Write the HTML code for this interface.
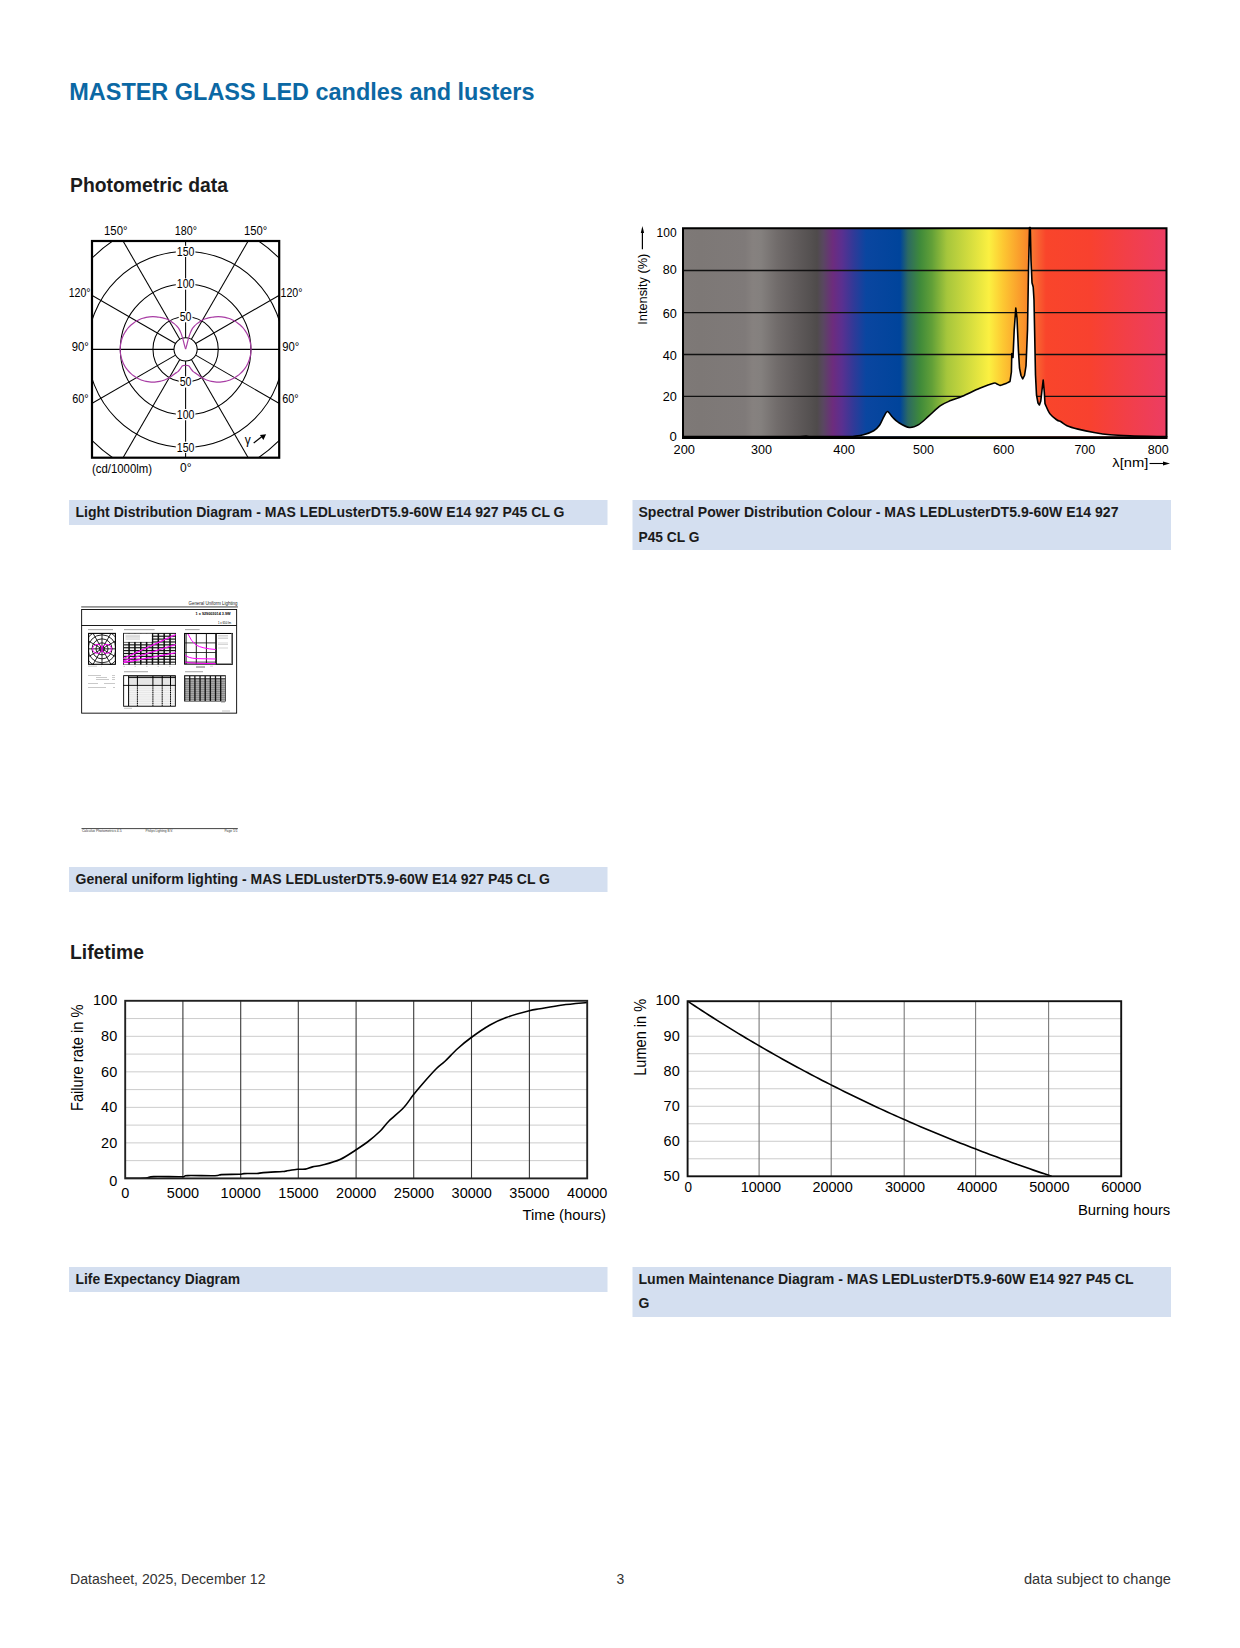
<!DOCTYPE html>
<html><head><meta charset="utf-8"><title>MASTER GLASS LED candles and lusters</title>
<style>
html,body{margin:0;padding:0;background:#fff;}
body{width:1240px;height:1648px;overflow:hidden;}
svg{display:block;font-family:"Liberation Sans", sans-serif;}
</style></head><body>
<svg width="1240" height="1648" viewBox="0 0 1240 1648">
<text x="69.30" y="100.00" font-size="24" font-weight="bold" fill="#0b68a4" textLength="465.20" lengthAdjust="spacingAndGlyphs">MASTER GLASS LED candles and lusters</text>
<text x="70.00" y="191.80" font-size="20" font-weight="bold" fill="#1b1b1b" textLength="158.00" lengthAdjust="spacingAndGlyphs">Photometric data</text>
<text x="70.00" y="958.70" font-size="20" font-weight="bold" fill="#1b1b1b" textLength="74.00" lengthAdjust="spacingAndGlyphs">Lifetime</text>
<rect x="69" y="500" width="538.5" height="25" fill="#d4dff0"/>
<text x="75.50" y="517.00" font-size="14" font-weight="bold" fill="#1b1b1b" textLength="489.00" lengthAdjust="spacingAndGlyphs">Light Distribution Diagram - MAS LEDLusterDT5.9-60W E14 927 P45 CL G</text>
<rect x="632.5" y="500" width="538.5" height="50" fill="#d4dff0"/>
<text x="638.50" y="517.00" font-size="14" font-weight="bold" fill="#1b1b1b" textLength="480.00" lengthAdjust="spacingAndGlyphs">Spectral Power Distribution Colour - MAS LEDLusterDT5.9-60W E14 927</text>
<text x="638.50" y="541.80" font-size="14" font-weight="bold" fill="#1b1b1b" textLength="61.00" lengthAdjust="spacingAndGlyphs">P45 CL G</text>
<rect x="69" y="867" width="538.5" height="25" fill="#d4dff0"/>
<text x="75.50" y="884.00" font-size="14" font-weight="bold" fill="#1b1b1b" textLength="474.50" lengthAdjust="spacingAndGlyphs">General uniform lighting - MAS LEDLusterDT5.9-60W E14 927 P45 CL G</text>
<rect x="69" y="1267" width="538.5" height="25" fill="#d4dff0"/>
<text x="75.50" y="1284.00" font-size="14" font-weight="bold" fill="#1b1b1b" textLength="164.50" lengthAdjust="spacingAndGlyphs">Life Expectancy Diagram</text>
<rect x="632.5" y="1267" width="538.5" height="50" fill="#d4dff0"/>
<text x="638.50" y="1284.00" font-size="14" font-weight="bold" fill="#1b1b1b" textLength="495.00" lengthAdjust="spacingAndGlyphs">Lumen Maintenance Diagram - MAS LEDLusterDT5.9-60W E14 927 P45 CL</text>
<text x="638.50" y="1308.30" font-size="14" font-weight="bold" fill="#1b1b1b">G</text>
<text x="70.00" y="1584.00" font-size="14" fill="#333" textLength="195.50" lengthAdjust="spacingAndGlyphs">Datasheet, 2025, December 12</text>
<text x="620.50" y="1584.00" font-size="14" fill="#333" text-anchor="middle">3</text>
<text x="1024.00" y="1584.00" font-size="14" fill="#333" textLength="147.00" lengthAdjust="spacingAndGlyphs">data subject to change</text>
<g>
<clipPath id="pc"><rect x="92" y="241" width="187.2" height="216.7"/></clipPath>
<g clip-path="url(#pc)" stroke="#000" fill="none" stroke-width="1.05">
<circle cx="185.6" cy="349.35" r="32.65"/>
<circle cx="185.6" cy="349.35" r="65.30"/>
<circle cx="185.6" cy="349.35" r="97.95"/>
<circle cx="185.6" cy="349.35" r="130.60"/>
<circle cx="185.6" cy="349.35" r="11.6"/>
<line x1="185.60" y1="337.75" x2="185.60" y2="49.35"/>
<line x1="191.40" y1="339.30" x2="335.60" y2="89.54"/>
<line x1="195.65" y1="343.55" x2="445.41" y2="199.35"/>
<line x1="197.20" y1="349.35" x2="485.60" y2="349.35"/>
<line x1="195.65" y1="355.15" x2="445.41" y2="499.35"/>
<line x1="191.40" y1="359.40" x2="335.60" y2="609.16"/>
<line x1="185.60" y1="360.95" x2="185.60" y2="649.35"/>
<line x1="179.80" y1="359.40" x2="35.60" y2="609.16"/>
<line x1="175.55" y1="355.15" x2="-74.21" y2="499.35"/>
<line x1="174.00" y1="349.35" x2="-114.40" y2="349.35"/>
<line x1="175.55" y1="343.55" x2="-74.21" y2="199.35"/>
<line x1="179.80" y1="339.30" x2="35.60" y2="89.54"/>
</g>
<path d="M185.60,349.05 L184.30,344.55 C184.03,343.52 183.25,340.25 182.70,338.35 C182.15,336.45 181.64,334.78 181.00,333.15 C180.36,331.52 179.59,329.79 178.86,328.59 C178.13,327.39 177.40,326.78 176.62,325.96 C175.84,325.13 175.01,324.35 174.15,323.64 C173.29,322.92 172.40,322.25 171.48,321.64 C170.57,321.04 169.62,320.49 168.66,320.00 C167.69,319.51 166.70,319.08 165.71,318.72 C164.71,318.35 163.69,318.04 162.68,317.80 C161.66,317.55 160.66,317.41 159.60,317.25 C158.54,317.09 157.44,316.93 156.32,316.83 C155.20,316.73 154.04,316.65 152.90,316.65 C151.76,316.65 150.62,316.71 149.48,316.83 C148.35,316.95 147.22,317.13 146.10,317.36 C144.99,317.60 143.88,317.90 142.80,318.25 C141.71,318.60 140.64,319.01 139.60,319.48 C138.56,319.94 137.54,320.46 136.55,321.03 C135.56,321.60 134.60,322.23 133.68,322.90 C132.76,323.56 131.87,324.29 131.02,325.05 C130.17,325.81 129.36,326.62 128.60,327.47 C127.84,328.32 127.11,329.21 126.45,330.13 C125.78,331.05 125.15,332.01 124.58,333.00 C124.01,333.99 123.49,335.01 123.03,336.05 C122.56,337.09 122.15,338.16 121.80,339.25 C121.45,340.33 121.15,341.44 120.91,342.55 C120.68,343.67 120.50,344.80 120.38,345.93 C120.26,347.07 120.20,348.21 120.20,349.35 C120.20,350.49 120.26,351.63 120.38,352.77 C120.50,353.90 120.68,355.03 120.91,356.15 C121.15,357.26 121.45,358.37 121.80,359.45 C122.15,360.54 122.56,361.61 123.03,362.65 C123.49,363.69 124.01,364.71 124.58,365.70 C125.15,366.69 125.78,367.65 126.45,368.57 C127.11,369.49 127.84,370.38 128.60,371.23 C129.36,372.08 130.17,372.89 131.02,373.65 C131.87,374.41 132.76,375.14 133.68,375.80 C134.60,376.47 135.56,377.10 136.55,377.67 C137.54,378.24 138.56,378.76 139.60,379.22 C140.64,379.69 141.71,380.10 142.80,380.45 C143.88,380.80 144.99,381.10 146.10,381.34 C147.22,381.57 148.35,381.75 149.48,381.87 C150.62,381.99 151.76,382.05 152.90,382.05 C154.04,382.05 155.18,381.99 156.32,381.87 C157.45,381.75 158.58,381.57 159.70,381.34 C160.81,381.10 161.92,380.80 163.00,380.45 C164.09,380.10 165.16,379.69 166.20,379.22 C167.24,378.76 168.26,378.24 169.25,377.67 C170.24,377.10 171.20,376.47 172.12,375.80 C173.04,375.14 173.80,374.34 174.78,373.65 C175.76,372.96 177.03,372.53 178.00,371.65 C178.97,370.77 179.83,369.33 180.60,368.35 C181.37,367.37 181.77,366.23 182.60,365.75 C183.43,365.27 185.10,365.54 185.60,365.50" stroke="#a83ca4" stroke-width="1.2" fill="none" stroke-linejoin="round"/>
<path d="M185.60,349.05 L186.90,344.55 C187.17,343.52 187.95,340.25 188.50,338.35 C189.05,336.45 189.56,334.78 190.20,333.15 C190.84,331.52 191.61,329.79 192.34,328.59 C193.07,327.39 193.80,326.78 194.58,325.96 C195.36,325.13 196.19,324.35 197.05,323.64 C197.91,322.92 198.80,322.25 199.72,321.64 C200.63,321.04 201.58,320.49 202.54,320.00 C203.51,319.51 204.50,319.08 205.49,318.72 C206.49,318.35 207.51,318.04 208.52,317.80 C209.54,317.55 210.54,317.41 211.60,317.25 C212.66,317.09 213.76,316.93 214.88,316.83 C216.00,316.73 217.16,316.65 218.30,316.65 C219.44,316.65 220.58,316.71 221.72,316.83 C222.85,316.95 223.98,317.13 225.10,317.36 C226.21,317.60 227.32,317.90 228.40,318.25 C229.49,318.60 230.56,319.01 231.60,319.48 C232.64,319.94 233.66,320.46 234.65,321.03 C235.64,321.60 236.60,322.23 237.52,322.90 C238.44,323.56 239.33,324.29 240.18,325.05 C241.03,325.81 241.84,326.62 242.60,327.47 C243.36,328.32 244.09,329.21 244.75,330.13 C245.42,331.05 246.05,332.01 246.62,333.00 C247.19,333.99 247.71,335.01 248.17,336.05 C248.64,337.09 249.05,338.16 249.40,339.25 C249.75,340.33 250.05,341.44 250.29,342.55 C250.52,343.67 250.70,344.80 250.82,345.93 C250.94,347.07 251.00,348.21 251.00,349.35 C251.00,350.49 250.94,351.63 250.82,352.77 C250.70,353.90 250.52,355.03 250.29,356.15 C250.05,357.26 249.75,358.37 249.40,359.45 C249.05,360.54 248.64,361.61 248.17,362.65 C247.71,363.69 247.19,364.71 246.62,365.70 C246.05,366.69 245.42,367.65 244.75,368.57 C244.09,369.49 243.36,370.38 242.60,371.23 C241.84,372.08 241.03,372.89 240.18,373.65 C239.33,374.41 238.44,375.14 237.52,375.80 C236.60,376.47 235.64,377.10 234.65,377.67 C233.66,378.24 232.64,378.76 231.60,379.22 C230.56,379.69 229.49,380.10 228.40,380.45 C227.32,380.80 226.21,381.10 225.10,381.34 C223.98,381.57 222.85,381.75 221.72,381.87 C220.58,381.99 219.44,382.05 218.30,382.05 C217.16,382.05 216.02,381.99 214.88,381.87 C213.75,381.75 212.62,381.57 211.50,381.34 C210.39,381.10 209.28,380.80 208.20,380.45 C207.11,380.10 206.04,379.69 205.00,379.22 C203.96,378.76 202.94,378.24 201.95,377.67 C200.96,377.10 200.00,376.47 199.08,375.80 C198.16,375.14 197.40,374.34 196.42,373.65 C195.44,372.96 194.17,372.53 193.20,371.65 C192.23,370.77 191.37,369.33 190.60,368.35 C189.83,367.37 189.43,366.23 188.60,365.75 C187.77,365.27 186.10,365.54 185.60,365.50" stroke="#a83ca4" stroke-width="1.2" fill="none" stroke-linejoin="round"/>
<rect x="175.79999999999998" y="245.80000000000004" width="19.6" height="11.2" fill="#fff"/>
<text x="185.60" y="255.65" font-size="12.3" text-anchor="middle" textLength="17.60" lengthAdjust="spacingAndGlyphs">150</text>
<rect x="175.79999999999998" y="441.7" width="19.6" height="11.2" fill="#fff"/>
<text x="185.60" y="451.55" font-size="12.3" text-anchor="middle" textLength="17.60" lengthAdjust="spacingAndGlyphs">150</text>
<rect x="175.79999999999998" y="278.45" width="19.6" height="11.2" fill="#fff"/>
<text x="185.60" y="288.30" font-size="12.3" text-anchor="middle" textLength="17.60" lengthAdjust="spacingAndGlyphs">100</text>
<rect x="175.79999999999998" y="409.05" width="19.6" height="11.2" fill="#fff"/>
<text x="185.60" y="418.90" font-size="12.3" text-anchor="middle" textLength="17.60" lengthAdjust="spacingAndGlyphs">100</text>
<rect x="178.7" y="311.1" width="13.8" height="11.2" fill="#fff"/>
<text x="185.60" y="320.95" font-size="12.3" text-anchor="middle" textLength="11.80" lengthAdjust="spacingAndGlyphs">50</text>
<rect x="178.7" y="376.4" width="13.8" height="11.2" fill="#fff"/>
<text x="185.60" y="386.25" font-size="12.3" text-anchor="middle" textLength="11.80" lengthAdjust="spacingAndGlyphs">50</text>
<rect x="92" y="241" width="187.2" height="216.7" fill="none" stroke="#000" stroke-width="2.2"/>
<text x="104.00" y="234.90" font-size="12.3" textLength="23.50" lengthAdjust="spacingAndGlyphs">150°</text>
<text x="174.80" y="234.90" font-size="12.3" textLength="22.20" lengthAdjust="spacingAndGlyphs">180°</text>
<text x="244.00" y="234.90" font-size="12.3" textLength="23.30" lengthAdjust="spacingAndGlyphs">150°</text>
<text x="68.70" y="297.00" font-size="12.3" textLength="21.90" lengthAdjust="spacingAndGlyphs">120°</text>
<text x="71.80" y="351.00" font-size="12.3" textLength="17.10" lengthAdjust="spacingAndGlyphs">90°</text>
<text x="72.20" y="403.00" font-size="12.3" textLength="16.40" lengthAdjust="spacingAndGlyphs">60°</text>
<text x="280.50" y="297.00" font-size="12.3" textLength="22.00" lengthAdjust="spacingAndGlyphs">120°</text>
<text x="282.20" y="351.00" font-size="12.3" textLength="17.10" lengthAdjust="spacingAndGlyphs">90°</text>
<text x="282.20" y="403.00" font-size="12.3" textLength="16.40" lengthAdjust="spacingAndGlyphs">60°</text>
<text x="92.00" y="472.50" font-size="12.3" textLength="60.00" lengthAdjust="spacingAndGlyphs">(cd/1000lm)</text>
<text x="180.00" y="472.00" font-size="12.3" textLength="11.50" lengthAdjust="spacingAndGlyphs">0°</text>
<text x="244.80" y="444.00" font-size="12.3" textLength="6.00" lengthAdjust="spacingAndGlyphs">γ</text>
<line x1="253.70" y1="443.00" x2="262.00" y2="436.50" stroke="#000" stroke-width="1.2"/>
<path d="M259.9,435 L266.1,434.2 L263.4,439.9 Z" stroke="none" stroke-width="0" fill="#000"/>
</g>
<defs><linearGradient id="spg" x1="683" y1="0" x2="1166.5" y2="0" gradientUnits="userSpaceOnUse"><stop offset="0.0000" stop-color="#7e7977"/><stop offset="0.0352" stop-color="#7d7876"/><stop offset="0.1282" stop-color="#7f7a79"/><stop offset="0.1448" stop-color="#86817f"/><stop offset="0.1613" stop-color="#84807e"/><stop offset="0.1944" stop-color="#716c6b"/><stop offset="0.2275" stop-color="#635e5e"/><stop offset="0.2627" stop-color="#555151"/><stop offset="0.2771" stop-color="#4f4b4b"/><stop offset="0.2896" stop-color="#594760"/><stop offset="0.3102" stop-color="#6d2c7e"/><stop offset="0.3289" stop-color="#5a3090"/><stop offset="0.3537" stop-color="#2f3a98"/><stop offset="0.3785" stop-color="#0a46a0"/><stop offset="0.4488" stop-color="#00449b"/><stop offset="0.4654" stop-color="#2c6a62"/><stop offset="0.4902" stop-color="#3f8a3a"/><stop offset="0.5150" stop-color="#62a038"/><stop offset="0.5460" stop-color="#a6c63c"/><stop offset="0.6329" stop-color="#fbf041"/><stop offset="0.6618" stop-color="#fdc832"/><stop offset="0.7073" stop-color="#f98f2a"/><stop offset="0.7301" stop-color="#f86832"/><stop offset="0.7508" stop-color="#f9452b"/><stop offset="0.8418" stop-color="#f8412f"/><stop offset="0.9990" stop-color="#ec3d63"/></linearGradient></defs>
<rect x="683" y="228.3" width="483.5" height="208.7" fill="url(#spg)"/>
<line x1="683.00" y1="396.40" x2="1166.50" y2="396.40" stroke="#111" stroke-width="1.3"/>
<line x1="683.00" y1="354.50" x2="1166.50" y2="354.50" stroke="#111" stroke-width="1.3"/>
<line x1="683.00" y1="312.60" x2="1166.50" y2="312.60" stroke="#111" stroke-width="1.3"/>
<line x1="683.00" y1="270.50" x2="1166.50" y2="270.50" stroke="#111" stroke-width="1.3"/>
<path d="M683.00,436.60 L800.00,436.60 L806.00,436.00 L809.00,436.60 L853.40,436.40 L853.40,436.40 C855.08,436.13 860.12,435.73 863.50,434.80 C866.88,433.87 871.03,432.38 873.70,430.80 C876.37,429.22 877.80,427.67 879.50,425.30 C881.20,422.93 882.57,418.90 883.90,416.60 C885.23,414.30 886.05,411.38 887.50,411.50 C888.95,411.62 890.78,415.48 892.60,417.30 C894.42,419.12 895.62,420.70 898.40,422.40 C901.18,424.10 905.92,427.13 909.30,427.50 C912.68,427.87 915.43,426.53 918.70,424.60 C921.97,422.67 925.27,419.05 928.90,415.90 C932.53,412.75 936.88,408.25 940.50,405.70 C944.12,403.15 946.97,402.17 950.60,400.60 C954.23,399.03 957.45,398.35 962.30,396.30 C967.15,394.25 974.50,390.48 979.70,388.30 C984.90,386.12 990.62,383.92 993.50,383.20 C996.38,382.48 995.92,383.63 997.00,384.00 C998.08,384.37 999.00,385.32 1000.00,385.40 C1001.00,385.48 1002.00,384.83 1003.00,384.50 C1004.00,384.17 1005.17,383.73 1006.00,383.40 C1006.83,383.07 1007.33,382.82 1008.00,382.50 C1008.67,382.18 1009.67,381.67 1010.00,381.50 L1011.40,372.00 L1011.80,353.50 L1013.00,357.50 L1014.20,330.00 L1015.80,308.00 L1017.00,318.00 L1018.40,350.00 L1019.50,368.00 L1021.00,375.50 L1022.70,378.90 L1024.50,375.50 L1026.00,366.00 L1027.50,330.00 L1028.50,270.00 L1029.50,227.50 L1030.30,227.50 L1031.00,260.00 L1032.00,282.70 L1033.20,287.00 L1034.00,300.00 L1034.60,330.00 L1035.50,375.00 L1036.50,395.00 L1038.00,403.00 L1039.40,405.00 L1040.80,401.00 L1042.00,390.00 L1043.20,380.00 L1044.30,392.00 L1045.00,403.70 C1045.83,405.40 1048.00,411.18 1050.00,413.90 C1052.00,416.62 1055.17,418.68 1057.00,420.00 C1058.83,421.32 1059.33,420.85 1061.00,421.80 C1062.67,422.75 1064.17,424.48 1067.00,425.70 C1069.83,426.92 1073.50,427.97 1078.00,429.10 C1082.50,430.23 1088.67,431.55 1094.00,432.50 C1099.33,433.45 1104.00,434.23 1110.00,434.80 C1116.00,435.37 1121.67,435.60 1130.00,435.90 C1138.33,436.20 1153.92,436.48 1160.00,436.60 C1166.08,436.72 1165.42,436.60 1166.50,436.60 Z" stroke="none" stroke-width="0" fill="#fff"/>
<path d="M683.00,436.60 L800.00,436.60 L806.00,436.00 L809.00,436.60 L853.40,436.40 L853.40,436.40 C855.08,436.13 860.12,435.73 863.50,434.80 C866.88,433.87 871.03,432.38 873.70,430.80 C876.37,429.22 877.80,427.67 879.50,425.30 C881.20,422.93 882.57,418.90 883.90,416.60 C885.23,414.30 886.05,411.38 887.50,411.50 C888.95,411.62 890.78,415.48 892.60,417.30 C894.42,419.12 895.62,420.70 898.40,422.40 C901.18,424.10 905.92,427.13 909.30,427.50 C912.68,427.87 915.43,426.53 918.70,424.60 C921.97,422.67 925.27,419.05 928.90,415.90 C932.53,412.75 936.88,408.25 940.50,405.70 C944.12,403.15 946.97,402.17 950.60,400.60 C954.23,399.03 957.45,398.35 962.30,396.30 C967.15,394.25 974.50,390.48 979.70,388.30 C984.90,386.12 990.62,383.92 993.50,383.20 C996.38,382.48 995.92,383.63 997.00,384.00 C998.08,384.37 999.00,385.32 1000.00,385.40 C1001.00,385.48 1002.00,384.83 1003.00,384.50 C1004.00,384.17 1005.17,383.73 1006.00,383.40 C1006.83,383.07 1007.33,382.82 1008.00,382.50 C1008.67,382.18 1009.67,381.67 1010.00,381.50 L1011.40,372.00 L1011.80,353.50 L1013.00,357.50 L1014.20,330.00 L1015.80,308.00 L1017.00,318.00 L1018.40,350.00 L1019.50,368.00 L1021.00,375.50 L1022.70,378.90 L1024.50,375.50 L1026.00,366.00 L1027.50,330.00 L1028.50,270.00 L1029.50,227.50 L1030.30,227.50 L1031.00,260.00 L1032.00,282.70 L1033.20,287.00 L1034.00,300.00 L1034.60,330.00 L1035.50,375.00 L1036.50,395.00 L1038.00,403.00 L1039.40,405.00 L1040.80,401.00 L1042.00,390.00 L1043.20,380.00 L1044.30,392.00 L1045.00,403.70 C1045.83,405.40 1048.00,411.18 1050.00,413.90 C1052.00,416.62 1055.17,418.68 1057.00,420.00 C1058.83,421.32 1059.33,420.85 1061.00,421.80 C1062.67,422.75 1064.17,424.48 1067.00,425.70 C1069.83,426.92 1073.50,427.97 1078.00,429.10 C1082.50,430.23 1088.67,431.55 1094.00,432.50 C1099.33,433.45 1104.00,434.23 1110.00,434.80 C1116.00,435.37 1121.67,435.60 1130.00,435.90 C1138.33,436.20 1153.92,436.48 1160.00,436.60 C1166.08,436.72 1165.42,436.60 1166.50,436.60" stroke="#000" stroke-width="1.6" fill="none" stroke-linejoin="round"/>
<path d="M683,437.3 L683,228.3 L1166.5,228.3 L1166.5,437.3" fill="none" stroke="#000" stroke-width="2"/>
<line x1="682.00" y1="437.60" x2="1167.50" y2="437.60" stroke="#000" stroke-width="2.7"/>
<text x="656.60" y="236.80" font-size="13.5" textLength="20.00" lengthAdjust="spacingAndGlyphs">100</text>
<text x="662.70" y="273.70" font-size="13.5" textLength="14.00" lengthAdjust="spacingAndGlyphs">80</text>
<text x="662.80" y="317.80" font-size="13.5" textLength="14.10" lengthAdjust="spacingAndGlyphs">60</text>
<text x="662.80" y="360.10" font-size="13.5" textLength="14.10" lengthAdjust="spacingAndGlyphs">40</text>
<text x="662.80" y="401.10" font-size="13.5" textLength="14.10" lengthAdjust="spacingAndGlyphs">20</text>
<text x="669.60" y="440.70" font-size="13.5" textLength="7.30" lengthAdjust="spacingAndGlyphs">0</text>
<text x="673.50" y="453.90" font-size="13.5" textLength="21.40" lengthAdjust="spacingAndGlyphs">200</text>
<text x="751.10" y="453.90" font-size="13.5" textLength="21.00" lengthAdjust="spacingAndGlyphs">300</text>
<text x="833.30" y="453.90" font-size="13.5" textLength="21.60" lengthAdjust="spacingAndGlyphs">400</text>
<text x="913.10" y="453.90" font-size="13.5" textLength="20.90" lengthAdjust="spacingAndGlyphs">500</text>
<text x="993.00" y="453.90" font-size="13.5" textLength="21.20" lengthAdjust="spacingAndGlyphs">600</text>
<text x="1074.40" y="453.90" font-size="13.5" textLength="20.90" lengthAdjust="spacingAndGlyphs">700</text>
<text x="1147.80" y="453.90" font-size="13.5" textLength="20.90" lengthAdjust="spacingAndGlyphs">800</text>
<text x="1112.30" y="466.50" font-size="13.5" textLength="36.00" lengthAdjust="spacingAndGlyphs">λ[nm]</text>
<line x1="1149.50" y1="463.50" x2="1165.00" y2="463.50" stroke="#000" stroke-width="1.1"/>
<path d="M1170,463.5 L1163,461.5 L1163,465.5 Z" stroke="none" stroke-width="0" fill="#000"/>
<text transform="translate(646.7,324.7) rotate(-90)" font-size="13.5" textLength="71" lengthAdjust="spacingAndGlyphs">Intensity (%)</text>
<line x1="642.40" y1="249.30" x2="642.40" y2="231.00" stroke="#000" stroke-width="1.2"/>
<path d="M642.4,225.9 L640.8,233 L644.1,233 Z" stroke="none" stroke-width="0" fill="#000"/>
<line x1="125.20" y1="1160.64" x2="587.20" y2="1160.64" stroke="#cccccc" stroke-width="1"/>
<line x1="125.20" y1="1142.88" x2="587.20" y2="1142.88" stroke="#cccccc" stroke-width="1"/>
<line x1="125.20" y1="1125.12" x2="587.20" y2="1125.12" stroke="#cccccc" stroke-width="1"/>
<line x1="125.20" y1="1107.36" x2="587.20" y2="1107.36" stroke="#cccccc" stroke-width="1"/>
<line x1="125.20" y1="1089.60" x2="587.20" y2="1089.60" stroke="#cccccc" stroke-width="1"/>
<line x1="125.20" y1="1071.84" x2="587.20" y2="1071.84" stroke="#cccccc" stroke-width="1"/>
<line x1="125.20" y1="1054.08" x2="587.20" y2="1054.08" stroke="#cccccc" stroke-width="1"/>
<line x1="125.20" y1="1036.32" x2="587.20" y2="1036.32" stroke="#cccccc" stroke-width="1"/>
<line x1="125.20" y1="1018.56" x2="587.20" y2="1018.56" stroke="#cccccc" stroke-width="1"/>
<line x1="182.90" y1="1000.80" x2="182.90" y2="1178.40" stroke="#3a3a3a" stroke-width="1.1"/>
<line x1="240.70" y1="1000.80" x2="240.70" y2="1178.40" stroke="#3a3a3a" stroke-width="1.1"/>
<line x1="298.30" y1="1000.80" x2="298.30" y2="1178.40" stroke="#3a3a3a" stroke-width="1.1"/>
<line x1="356.10" y1="1000.80" x2="356.10" y2="1178.40" stroke="#3a3a3a" stroke-width="1.1"/>
<line x1="413.70" y1="1000.80" x2="413.70" y2="1178.40" stroke="#3a3a3a" stroke-width="1.1"/>
<line x1="471.50" y1="1000.80" x2="471.50" y2="1178.40" stroke="#3a3a3a" stroke-width="1.1"/>
<line x1="529.40" y1="1000.80" x2="529.40" y2="1178.40" stroke="#3a3a3a" stroke-width="1.1"/>
<path d="M125.50,1178.20 C128.85,1178.17 140.90,1178.27 145.60,1178.00 C150.30,1177.73 147.65,1176.82 153.70,1176.60 C159.75,1176.38 176.25,1176.87 181.90,1176.70 C187.55,1176.53 182.08,1175.77 187.60,1175.60 C193.12,1175.43 209.35,1175.87 215.00,1175.70 C220.65,1175.53 217.47,1174.83 221.50,1174.60 C225.53,1174.37 235.45,1174.47 239.20,1174.30 C242.95,1174.13 241.05,1173.73 244.00,1173.60 C246.95,1173.47 253.67,1173.67 256.90,1173.50 C260.13,1173.33 259.10,1172.93 263.40,1172.60 C267.70,1172.27 278.93,1171.75 282.70,1171.50 C286.47,1171.25 283.57,1171.47 286.00,1171.10 C288.43,1170.73 294.08,1169.63 297.30,1169.30 C300.52,1168.97 302.77,1169.50 305.30,1169.10 C307.83,1168.70 309.63,1167.58 312.50,1166.90 C315.37,1166.22 317.92,1166.23 322.50,1165.00 C327.08,1163.77 334.46,1162.00 340.00,1159.50 C345.54,1157.00 351.17,1152.92 355.75,1150.00 C360.33,1147.08 363.46,1145.12 367.50,1142.00 C371.54,1138.88 376.46,1134.71 380.00,1131.25 C383.54,1127.79 384.79,1125.21 388.75,1121.25 C392.71,1117.29 399.67,1111.88 403.75,1107.50 C407.83,1103.12 409.92,1099.17 413.25,1095.00 C416.58,1090.83 419.92,1086.88 423.75,1082.50 C427.58,1078.12 432.71,1072.29 436.25,1068.75 C439.79,1065.21 441.46,1064.58 445.00,1061.25 C448.54,1057.92 453.12,1052.71 457.50,1048.75 C461.88,1044.79 465.83,1041.46 471.25,1037.50 C476.67,1033.54 484.17,1028.33 490.00,1025.00 C495.83,1021.67 499.71,1019.88 506.25,1017.50 C512.79,1015.12 523.62,1012.21 529.25,1010.75 C534.88,1009.29 534.46,1009.71 540.00,1008.75 C545.54,1007.79 554.67,1006.04 562.50,1005.00 C570.33,1003.96 582.92,1002.92 587.00,1002.50" stroke="#000" stroke-width="1.6" fill="none" stroke-linejoin="round"/>
<rect x="125.2" y="1000.8" width="462.00" height="177.60" fill="none" stroke="#222" stroke-width="1.9"/>
<text x="109.15" y="1185.70" font-size="15" textLength="8.05" lengthAdjust="spacingAndGlyphs">0</text>
<text x="101.10" y="1147.90" font-size="15" textLength="16.10" lengthAdjust="spacingAndGlyphs">20</text>
<text x="101.10" y="1111.90" font-size="15" textLength="16.10" lengthAdjust="spacingAndGlyphs">40</text>
<text x="101.10" y="1076.90" font-size="15" textLength="16.10" lengthAdjust="spacingAndGlyphs">60</text>
<text x="101.10" y="1040.60" font-size="15" textLength="16.10" lengthAdjust="spacingAndGlyphs">80</text>
<text x="93.05" y="1004.70" font-size="15" textLength="24.15" lengthAdjust="spacingAndGlyphs">100</text>
<text x="121.17" y="1197.90" font-size="15" textLength="8.05" lengthAdjust="spacingAndGlyphs">0</text>
<text x="166.85" y="1197.90" font-size="15" textLength="32.20" lengthAdjust="spacingAndGlyphs">5000</text>
<text x="220.58" y="1197.90" font-size="15" textLength="40.25" lengthAdjust="spacingAndGlyphs">10000</text>
<text x="278.33" y="1197.90" font-size="15" textLength="40.25" lengthAdjust="spacingAndGlyphs">15000</text>
<text x="336.08" y="1197.90" font-size="15" textLength="40.25" lengthAdjust="spacingAndGlyphs">20000</text>
<text x="393.83" y="1197.90" font-size="15" textLength="40.25" lengthAdjust="spacingAndGlyphs">25000</text>
<text x="451.58" y="1197.90" font-size="15" textLength="40.25" lengthAdjust="spacingAndGlyphs">30000</text>
<text x="509.33" y="1197.90" font-size="15" textLength="40.25" lengthAdjust="spacingAndGlyphs">35000</text>
<text x="567.08" y="1197.90" font-size="15" textLength="40.25" lengthAdjust="spacingAndGlyphs">40000</text>
<text x="522.50" y="1219.90" font-size="15" textLength="83.50" lengthAdjust="spacingAndGlyphs">Time (hours)</text>
<text transform="translate(82.8,1111) rotate(-90)" font-size="16.5" textLength="106.5" lengthAdjust="spacingAndGlyphs">Failure rate in %</text>
<line x1="687.60" y1="1158.79" x2="1121.20" y2="1158.79" stroke="#cccccc" stroke-width="1"/>
<line x1="687.60" y1="1141.28" x2="1121.20" y2="1141.28" stroke="#cccccc" stroke-width="1"/>
<line x1="687.60" y1="1123.77" x2="1121.20" y2="1123.77" stroke="#cccccc" stroke-width="1"/>
<line x1="687.60" y1="1106.26" x2="1121.20" y2="1106.26" stroke="#cccccc" stroke-width="1"/>
<line x1="687.60" y1="1088.75" x2="1121.20" y2="1088.75" stroke="#cccccc" stroke-width="1"/>
<line x1="687.60" y1="1071.24" x2="1121.20" y2="1071.24" stroke="#cccccc" stroke-width="1"/>
<line x1="687.60" y1="1053.73" x2="1121.20" y2="1053.73" stroke="#cccccc" stroke-width="1"/>
<line x1="687.60" y1="1036.22" x2="1121.20" y2="1036.22" stroke="#cccccc" stroke-width="1"/>
<line x1="687.60" y1="1018.71" x2="1121.20" y2="1018.71" stroke="#cccccc" stroke-width="1"/>
<line x1="759.10" y1="1001.20" x2="759.10" y2="1176.30" stroke="#7a7a7a" stroke-width="1.1"/>
<line x1="831.20" y1="1001.20" x2="831.20" y2="1176.30" stroke="#7a7a7a" stroke-width="1.1"/>
<line x1="904.20" y1="1001.20" x2="904.20" y2="1176.30" stroke="#7a7a7a" stroke-width="1.1"/>
<line x1="975.60" y1="1001.20" x2="975.60" y2="1176.30" stroke="#7a7a7a" stroke-width="1.1"/>
<line x1="1048.60" y1="1001.20" x2="1048.60" y2="1176.30" stroke="#7a7a7a" stroke-width="1.1"/>
<path d="M687.60,1001.20 L691.24,1003.62 L694.88,1006.02 L698.52,1008.41 L702.16,1010.78 L705.80,1013.13 L709.44,1015.47 L713.08,1017.79 L716.72,1020.09 L720.36,1022.38 L724.00,1024.65 L727.64,1026.91 L731.29,1029.15 L734.93,1031.38 L738.57,1033.59 L742.21,1035.78 L745.85,1037.96 L749.49,1040.13 L753.13,1042.28 L756.77,1044.41 L760.41,1046.53 L764.05,1048.64 L767.69,1050.73 L771.33,1052.81 L774.97,1054.87 L778.61,1056.92 L782.25,1058.95 L785.89,1060.97 L789.53,1062.98 L793.17,1064.97 L796.81,1066.95 L800.45,1068.91 L804.09,1070.87 L807.73,1072.80 L811.37,1074.73 L815.02,1076.64 L818.66,1078.54 L822.30,1080.42 L825.94,1082.29 L829.58,1084.15 L833.22,1086.00 L836.86,1087.83 L840.50,1089.65 L844.14,1091.46 L847.78,1093.26 L851.42,1095.04 L855.06,1096.81 L858.70,1098.57 L862.34,1100.31 L865.98,1102.05 L869.62,1103.77 L873.26,1105.48 L876.90,1107.18 L880.54,1108.87 L884.18,1110.54 L887.82,1112.21 L891.46,1113.86 L895.10,1115.50 L898.75,1117.13 L902.39,1118.75 L906.03,1120.35 L909.67,1121.95 L913.31,1123.54 L916.95,1125.11 L920.59,1126.67 L924.23,1128.22 L927.87,1129.77 L931.51,1131.30 L935.15,1132.82 L938.79,1134.33 L942.43,1135.83 L946.07,1137.32 L949.71,1138.79 L953.35,1140.26 L956.99,1141.72 L960.63,1143.17 L964.27,1144.61 L967.91,1146.04 L971.55,1147.46 L975.19,1148.86 L978.83,1150.26 L982.48,1151.65 L986.12,1153.03 L989.76,1154.40 L993.40,1155.76 L997.04,1157.11 L1000.68,1158.46 L1004.32,1159.79 L1007.96,1161.11 L1011.60,1162.43 L1015.24,1163.73 L1018.88,1165.03 L1022.52,1166.32 L1026.16,1167.59 L1029.80,1168.86 L1033.44,1170.13 L1037.08,1171.38 L1040.72,1172.62 L1044.36,1173.86 L1048.00,1175.08 L1051.64,1176.30" stroke="#000" stroke-width="1.6" fill="none"/>
<rect x="687.6" y="1001.2" width="433.60" height="175.10" fill="none" stroke="#111" stroke-width="1.9"/>
<text x="663.60" y="1180.60" font-size="15" textLength="16.10" lengthAdjust="spacingAndGlyphs">50</text>
<text x="663.60" y="1145.60" font-size="15" textLength="16.10" lengthAdjust="spacingAndGlyphs">60</text>
<text x="663.60" y="1110.50" font-size="15" textLength="16.10" lengthAdjust="spacingAndGlyphs">70</text>
<text x="663.60" y="1075.50" font-size="15" textLength="16.10" lengthAdjust="spacingAndGlyphs">80</text>
<text x="663.60" y="1040.50" font-size="15" textLength="16.10" lengthAdjust="spacingAndGlyphs">90</text>
<text x="655.55" y="1004.70" font-size="15" textLength="24.15" lengthAdjust="spacingAndGlyphs">100</text>
<text x="684.45" y="1192.00" font-size="15" textLength="7.50" lengthAdjust="spacingAndGlyphs">0</text>
<text x="740.77" y="1192.00" font-size="15" textLength="40.25" lengthAdjust="spacingAndGlyphs">10000</text>
<text x="812.48" y="1192.00" font-size="15" textLength="40.25" lengthAdjust="spacingAndGlyphs">20000</text>
<text x="884.88" y="1192.00" font-size="15" textLength="40.25" lengthAdjust="spacingAndGlyphs">30000</text>
<text x="956.98" y="1192.00" font-size="15" textLength="40.25" lengthAdjust="spacingAndGlyphs">40000</text>
<text x="1029.28" y="1192.00" font-size="15" textLength="40.25" lengthAdjust="spacingAndGlyphs">50000</text>
<text x="1101.17" y="1192.00" font-size="15" textLength="40.25" lengthAdjust="spacingAndGlyphs">60000</text>
<text x="1077.90" y="1214.80" font-size="15" textLength="92.40" lengthAdjust="spacingAndGlyphs">Burning hours</text>
<text transform="translate(646.4,1075.8) rotate(-90)" font-size="16.5" textLength="77" lengthAdjust="spacingAndGlyphs">Lumen in %</text>
<text x="237.5" y="605.4" font-size="4.6" text-anchor="end" fill="#222" textLength="49" lengthAdjust="spacingAndGlyphs">General Uniform Lighting</text>
<rect x="81.20" y="606.20" width="156.70" height="1.40" fill="#7a7a7a" stroke="none" stroke-width="0.6"/>
<rect x="81.65" y="609.55" width="155.00" height="103.60" fill="none" stroke="#000" stroke-width="0.9"/>
<line x1="81.60" y1="625.50" x2="236.60" y2="625.50" stroke="#000" stroke-width="0.9"/>
<text x="230.6" y="614.6" font-size="3.6" font-weight="bold" text-anchor="end" textLength="35" lengthAdjust="spacingAndGlyphs">1 x 929003014 3.9W</text>
<text x="231" y="624" font-size="3.0" text-anchor="end" fill="#000" textLength="13" lengthAdjust="spacingAndGlyphs">1 x 650 lm</text>
<line x1="88.00" y1="629.60" x2="113.00" y2="629.60" stroke="#aaa" stroke-width="1.1"/>
<line x1="124.00" y1="629.60" x2="154.60" y2="629.60" stroke="#aaa" stroke-width="1.1"/>
<line x1="185.00" y1="629.60" x2="199.60" y2="629.60" stroke="#aaa" stroke-width="1.1"/>
<clipPath id="tpc"><rect x="88.1" y="632.9" width="27.8" height="31.9"/></clipPath>
<g clip-path="url(#tpc)" fill="none" stroke="#000" stroke-width="0.85">
<circle cx="102" cy="648.85" r="2.5"/>
<circle cx="102" cy="648.85" r="6"/>
<circle cx="102" cy="648.85" r="10"/>
<circle cx="102" cy="648.85" r="14"/>
<circle cx="102" cy="648.85" r="18"/>
<circle cx="102" cy="648.85" r="22"/>
<line x1="102.00" y1="618.85" x2="102.00" y2="678.85"/>
<line x1="87.00" y1="622.87" x2="117.00" y2="674.83"/>
<line x1="76.02" y1="633.85" x2="127.98" y2="663.85"/>
<line x1="72.00" y1="648.85" x2="132.00" y2="648.85"/>
<line x1="76.02" y1="663.85" x2="127.98" y2="633.85"/>
<line x1="87.00" y1="674.83" x2="117.00" y2="622.87"/>
</g>
<ellipse cx="97.4" cy="648.85" rx="4.8" ry="4.5" fill="none" stroke="#f0f" stroke-width="1"/>
<ellipse cx="106.6" cy="648.85" rx="4.8" ry="4.5" fill="none" stroke="#f0f" stroke-width="1"/>
<rect x="88.60" y="633.40" width="26.80" height="30.90" fill="none" stroke="#000" stroke-width="1.1"/>
<line x1="88.00" y1="666.20" x2="97.00" y2="666.20" stroke="#bbb" stroke-width="0.7"/>
<line x1="101.00" y1="666.20" x2="102.00" y2="666.20" stroke="#bbb" stroke-width="0.7"/>
<rect x="123.10" y="632.90" width="52.90" height="31.90" fill="#111" stroke="none" stroke-width="0.6"/>
<rect x="124.00" y="633.90" width="4.30" height="1.75" fill="#f6f6f6" stroke="none" stroke-width="0.6"/>
<rect x="124.00" y="636.78" width="4.30" height="1.75" fill="#f6f6f6" stroke="none" stroke-width="0.6"/>
<rect x="124.00" y="639.66" width="4.30" height="1.75" fill="#f6f6f6" stroke="none" stroke-width="0.6"/>
<rect x="124.00" y="642.54" width="4.30" height="1.75" fill="#f6f6f6" stroke="none" stroke-width="0.6"/>
<rect x="124.00" y="645.42" width="4.30" height="1.75" fill="#f6f6f6" stroke="none" stroke-width="0.6"/>
<rect x="124.00" y="648.30" width="4.30" height="1.75" fill="#f6f6f6" stroke="none" stroke-width="0.6"/>
<rect x="124.00" y="651.18" width="4.30" height="1.75" fill="#f6f6f6" stroke="none" stroke-width="0.6"/>
<rect x="124.00" y="654.06" width="4.30" height="1.75" fill="#f6f6f6" stroke="none" stroke-width="0.6"/>
<rect x="124.00" y="656.94" width="4.30" height="1.75" fill="#f6f6f6" stroke="none" stroke-width="0.6"/>
<rect x="124.00" y="659.82" width="4.30" height="1.75" fill="#f6f6f6" stroke="none" stroke-width="0.6"/>
<rect x="124.00" y="662.70" width="4.30" height="1.75" fill="#f6f6f6" stroke="none" stroke-width="0.6"/>
<rect x="129.85" y="633.90" width="4.30" height="1.75" fill="#f6f6f6" stroke="none" stroke-width="0.6"/>
<rect x="129.85" y="636.78" width="4.30" height="1.75" fill="#f6f6f6" stroke="none" stroke-width="0.6"/>
<rect x="129.85" y="639.66" width="4.30" height="1.75" fill="#f6f6f6" stroke="none" stroke-width="0.6"/>
<rect x="129.85" y="642.54" width="4.30" height="1.75" fill="#f6f6f6" stroke="none" stroke-width="0.6"/>
<rect x="129.85" y="645.42" width="4.30" height="1.75" fill="#f6f6f6" stroke="none" stroke-width="0.6"/>
<rect x="129.85" y="648.30" width="4.30" height="1.75" fill="#f6f6f6" stroke="none" stroke-width="0.6"/>
<rect x="129.85" y="651.18" width="4.30" height="1.75" fill="#f6f6f6" stroke="none" stroke-width="0.6"/>
<rect x="129.85" y="654.06" width="4.30" height="1.75" fill="#f6f6f6" stroke="none" stroke-width="0.6"/>
<rect x="129.85" y="656.94" width="4.30" height="1.75" fill="#f6f6f6" stroke="none" stroke-width="0.6"/>
<rect x="129.85" y="659.82" width="4.30" height="1.75" fill="#f6f6f6" stroke="none" stroke-width="0.6"/>
<rect x="129.85" y="662.70" width="4.30" height="1.75" fill="#f6f6f6" stroke="none" stroke-width="0.6"/>
<rect x="135.70" y="633.90" width="4.30" height="1.75" fill="#f6f6f6" stroke="none" stroke-width="0.6"/>
<rect x="135.70" y="636.78" width="4.30" height="1.75" fill="#f6f6f6" stroke="none" stroke-width="0.6"/>
<rect x="135.70" y="639.66" width="4.30" height="1.75" fill="#f6f6f6" stroke="none" stroke-width="0.6"/>
<rect x="135.70" y="642.54" width="4.30" height="1.75" fill="#f6f6f6" stroke="none" stroke-width="0.6"/>
<rect x="135.70" y="645.42" width="4.30" height="1.75" fill="#f6f6f6" stroke="none" stroke-width="0.6"/>
<rect x="135.70" y="648.30" width="4.30" height="1.75" fill="#f6f6f6" stroke="none" stroke-width="0.6"/>
<rect x="135.70" y="651.18" width="4.30" height="1.75" fill="#f6f6f6" stroke="none" stroke-width="0.6"/>
<rect x="135.70" y="654.06" width="4.30" height="1.75" fill="#f6f6f6" stroke="none" stroke-width="0.6"/>
<rect x="135.70" y="656.94" width="4.30" height="1.75" fill="#f6f6f6" stroke="none" stroke-width="0.6"/>
<rect x="135.70" y="659.82" width="4.30" height="1.75" fill="#f6f6f6" stroke="none" stroke-width="0.6"/>
<rect x="135.70" y="662.70" width="4.30" height="1.75" fill="#f6f6f6" stroke="none" stroke-width="0.6"/>
<rect x="141.55" y="633.90" width="4.30" height="1.75" fill="#f6f6f6" stroke="none" stroke-width="0.6"/>
<rect x="141.55" y="636.78" width="4.30" height="1.75" fill="#f6f6f6" stroke="none" stroke-width="0.6"/>
<rect x="141.55" y="639.66" width="4.30" height="1.75" fill="#f6f6f6" stroke="none" stroke-width="0.6"/>
<rect x="141.55" y="642.54" width="4.30" height="1.75" fill="#f6f6f6" stroke="none" stroke-width="0.6"/>
<rect x="141.55" y="645.42" width="4.30" height="1.75" fill="#f6f6f6" stroke="none" stroke-width="0.6"/>
<rect x="141.55" y="648.30" width="4.30" height="1.75" fill="#f6f6f6" stroke="none" stroke-width="0.6"/>
<rect x="141.55" y="651.18" width="4.30" height="1.75" fill="#f6f6f6" stroke="none" stroke-width="0.6"/>
<rect x="141.55" y="654.06" width="4.30" height="1.75" fill="#f6f6f6" stroke="none" stroke-width="0.6"/>
<rect x="141.55" y="656.94" width="4.30" height="1.75" fill="#f6f6f6" stroke="none" stroke-width="0.6"/>
<rect x="141.55" y="659.82" width="4.30" height="1.75" fill="#f6f6f6" stroke="none" stroke-width="0.6"/>
<rect x="141.55" y="662.70" width="4.30" height="1.75" fill="#f6f6f6" stroke="none" stroke-width="0.6"/>
<rect x="147.40" y="633.90" width="4.30" height="1.75" fill="#f6f6f6" stroke="none" stroke-width="0.6"/>
<rect x="147.40" y="636.78" width="4.30" height="1.75" fill="#f6f6f6" stroke="none" stroke-width="0.6"/>
<rect x="147.40" y="639.66" width="4.30" height="1.75" fill="#f6f6f6" stroke="none" stroke-width="0.6"/>
<rect x="147.40" y="642.54" width="4.30" height="1.75" fill="#f6f6f6" stroke="none" stroke-width="0.6"/>
<rect x="147.40" y="645.42" width="4.30" height="1.75" fill="#f6f6f6" stroke="none" stroke-width="0.6"/>
<rect x="147.40" y="648.30" width="4.30" height="1.75" fill="#f6f6f6" stroke="none" stroke-width="0.6"/>
<rect x="147.40" y="651.18" width="4.30" height="1.75" fill="#f6f6f6" stroke="none" stroke-width="0.6"/>
<rect x="147.40" y="654.06" width="4.30" height="1.75" fill="#f6f6f6" stroke="none" stroke-width="0.6"/>
<rect x="147.40" y="656.94" width="4.30" height="1.75" fill="#f6f6f6" stroke="none" stroke-width="0.6"/>
<rect x="147.40" y="659.82" width="4.30" height="1.75" fill="#f6f6f6" stroke="none" stroke-width="0.6"/>
<rect x="147.40" y="662.70" width="4.30" height="1.75" fill="#f6f6f6" stroke="none" stroke-width="0.6"/>
<rect x="153.25" y="633.90" width="4.30" height="1.75" fill="#f6f6f6" stroke="none" stroke-width="0.6"/>
<rect x="153.25" y="636.78" width="4.30" height="1.75" fill="#f6f6f6" stroke="none" stroke-width="0.6"/>
<rect x="153.25" y="639.66" width="4.30" height="1.75" fill="#f6f6f6" stroke="none" stroke-width="0.6"/>
<rect x="153.25" y="642.54" width="4.30" height="1.75" fill="#f6f6f6" stroke="none" stroke-width="0.6"/>
<rect x="153.25" y="645.42" width="4.30" height="1.75" fill="#f6f6f6" stroke="none" stroke-width="0.6"/>
<rect x="153.25" y="648.30" width="4.30" height="1.75" fill="#f6f6f6" stroke="none" stroke-width="0.6"/>
<rect x="153.25" y="651.18" width="4.30" height="1.75" fill="#f6f6f6" stroke="none" stroke-width="0.6"/>
<rect x="153.25" y="654.06" width="4.30" height="1.75" fill="#f6f6f6" stroke="none" stroke-width="0.6"/>
<rect x="153.25" y="656.94" width="4.30" height="1.75" fill="#f6f6f6" stroke="none" stroke-width="0.6"/>
<rect x="153.25" y="659.82" width="4.30" height="1.75" fill="#f6f6f6" stroke="none" stroke-width="0.6"/>
<rect x="153.25" y="662.70" width="4.30" height="1.75" fill="#f6f6f6" stroke="none" stroke-width="0.6"/>
<rect x="159.10" y="633.90" width="4.30" height="1.75" fill="#f6f6f6" stroke="none" stroke-width="0.6"/>
<rect x="159.10" y="636.78" width="4.30" height="1.75" fill="#f6f6f6" stroke="none" stroke-width="0.6"/>
<rect x="159.10" y="639.66" width="4.30" height="1.75" fill="#f6f6f6" stroke="none" stroke-width="0.6"/>
<rect x="159.10" y="642.54" width="4.30" height="1.75" fill="#f6f6f6" stroke="none" stroke-width="0.6"/>
<rect x="159.10" y="645.42" width="4.30" height="1.75" fill="#f6f6f6" stroke="none" stroke-width="0.6"/>
<rect x="159.10" y="648.30" width="4.30" height="1.75" fill="#f6f6f6" stroke="none" stroke-width="0.6"/>
<rect x="159.10" y="651.18" width="4.30" height="1.75" fill="#f6f6f6" stroke="none" stroke-width="0.6"/>
<rect x="159.10" y="654.06" width="4.30" height="1.75" fill="#f6f6f6" stroke="none" stroke-width="0.6"/>
<rect x="159.10" y="656.94" width="4.30" height="1.75" fill="#f6f6f6" stroke="none" stroke-width="0.6"/>
<rect x="159.10" y="659.82" width="4.30" height="1.75" fill="#f6f6f6" stroke="none" stroke-width="0.6"/>
<rect x="159.10" y="662.70" width="4.30" height="1.75" fill="#f6f6f6" stroke="none" stroke-width="0.6"/>
<rect x="164.95" y="633.90" width="4.30" height="1.75" fill="#f6f6f6" stroke="none" stroke-width="0.6"/>
<rect x="164.95" y="636.78" width="4.30" height="1.75" fill="#f6f6f6" stroke="none" stroke-width="0.6"/>
<rect x="164.95" y="639.66" width="4.30" height="1.75" fill="#f6f6f6" stroke="none" stroke-width="0.6"/>
<rect x="164.95" y="642.54" width="4.30" height="1.75" fill="#f6f6f6" stroke="none" stroke-width="0.6"/>
<rect x="164.95" y="645.42" width="4.30" height="1.75" fill="#f6f6f6" stroke="none" stroke-width="0.6"/>
<rect x="164.95" y="648.30" width="4.30" height="1.75" fill="#f6f6f6" stroke="none" stroke-width="0.6"/>
<rect x="164.95" y="651.18" width="4.30" height="1.75" fill="#f6f6f6" stroke="none" stroke-width="0.6"/>
<rect x="164.95" y="654.06" width="4.30" height="1.75" fill="#f6f6f6" stroke="none" stroke-width="0.6"/>
<rect x="164.95" y="656.94" width="4.30" height="1.75" fill="#f6f6f6" stroke="none" stroke-width="0.6"/>
<rect x="164.95" y="659.82" width="4.30" height="1.75" fill="#f6f6f6" stroke="none" stroke-width="0.6"/>
<rect x="164.95" y="662.70" width="4.30" height="1.75" fill="#f6f6f6" stroke="none" stroke-width="0.6"/>
<rect x="170.80" y="633.90" width="4.30" height="1.75" fill="#f6f6f6" stroke="none" stroke-width="0.6"/>
<rect x="170.80" y="636.78" width="4.30" height="1.75" fill="#f6f6f6" stroke="none" stroke-width="0.6"/>
<rect x="170.80" y="639.66" width="4.30" height="1.75" fill="#f6f6f6" stroke="none" stroke-width="0.6"/>
<rect x="170.80" y="642.54" width="4.30" height="1.75" fill="#f6f6f6" stroke="none" stroke-width="0.6"/>
<rect x="170.80" y="645.42" width="4.30" height="1.75" fill="#f6f6f6" stroke="none" stroke-width="0.6"/>
<rect x="170.80" y="648.30" width="4.30" height="1.75" fill="#f6f6f6" stroke="none" stroke-width="0.6"/>
<rect x="170.80" y="651.18" width="4.30" height="1.75" fill="#f6f6f6" stroke="none" stroke-width="0.6"/>
<rect x="170.80" y="654.06" width="4.30" height="1.75" fill="#f6f6f6" stroke="none" stroke-width="0.6"/>
<rect x="170.80" y="656.94" width="4.30" height="1.75" fill="#f6f6f6" stroke="none" stroke-width="0.6"/>
<rect x="170.80" y="659.82" width="4.30" height="1.75" fill="#f6f6f6" stroke="none" stroke-width="0.6"/>
<rect x="170.80" y="662.70" width="4.30" height="1.75" fill="#f6f6f6" stroke="none" stroke-width="0.6"/>
<rect x="124.00" y="633.70" width="27.80" height="8.20" fill="#fff" stroke="none" stroke-width="0.6"/>
<line x1="125.50" y1="635.30" x2="140.00" y2="635.30" stroke="#bbb" stroke-width="0.6"/>
<line x1="125.50" y1="636.60" x2="140.00" y2="636.60" stroke="#bbb" stroke-width="0.6"/>
<line x1="125.50" y1="637.90" x2="140.00" y2="637.90" stroke="#bbb" stroke-width="0.6"/>
<line x1="125.50" y1="639.20" x2="140.00" y2="639.20" stroke="#bbb" stroke-width="0.6"/>
<path d="M123.3,658.5 L175.8,634.6 M123.3,661 L175.8,644.6 M123.3,662.6 L175.8,652.7" stroke="#f0f" stroke-width="1.1" fill="none"/>
<line x1="123.50" y1="666.40" x2="125.00" y2="666.40" stroke="#bbb" stroke-width="0.7"/>
<line x1="134.50" y1="666.40" x2="136.00" y2="666.40" stroke="#bbb" stroke-width="0.7"/>
<line x1="146.00" y1="666.40" x2="147.50" y2="666.40" stroke="#bbb" stroke-width="0.7"/>
<line x1="157.50" y1="666.40" x2="159.00" y2="666.40" stroke="#bbb" stroke-width="0.7"/>
<line x1="169.00" y1="666.40" x2="170.50" y2="666.40" stroke="#bbb" stroke-width="0.7"/>
<rect x="184.60" y="633.50" width="47.60" height="30.60" fill="none" stroke="#000" stroke-width="1.1"/>
<rect x="216.30" y="633.50" width="15.90" height="30.60" fill="#fff" stroke="#000" stroke-width="1.0"/>
<line x1="231.70" y1="633.50" x2="231.70" y2="664.10" stroke="#888" stroke-width="1.2"/>
<line x1="184.60" y1="642.90" x2="216.30" y2="642.90" stroke="#333" stroke-width="0.95"/>
<line x1="184.60" y1="652.50" x2="216.30" y2="652.50" stroke="#333" stroke-width="0.95"/>
<line x1="184.60" y1="662.10" x2="216.30" y2="662.10" stroke="#333" stroke-width="0.95"/>
<line x1="186.10" y1="633.50" x2="186.10" y2="664.10" stroke="#111" stroke-width="0.95"/>
<line x1="196.30" y1="633.50" x2="196.30" y2="664.10" stroke="#111" stroke-width="0.95"/>
<line x1="206.40" y1="633.50" x2="206.40" y2="664.10" stroke="#111" stroke-width="0.95"/>
<line x1="215.70" y1="633.50" x2="215.70" y2="664.10" stroke="#111" stroke-width="0.95"/>
<path d="M188,634 Q191,641 196,645 Q202,648.5 215.7,649.5 M185,655 Q188,658 196,658.6 L215.7,659 M185,662 Q190,663.5 215.7,663.6" stroke="#f0f" stroke-width="1.0" fill="none"/>
<line x1="218.00" y1="635.50" x2="228.00" y2="635.50" stroke="#bbb" stroke-width="0.6"/>
<line x1="218.00" y1="637.00" x2="228.00" y2="637.00" stroke="#bbb" stroke-width="0.6"/>
<line x1="218.00" y1="638.50" x2="228.00" y2="638.50" stroke="#bbb" stroke-width="0.6"/>
<line x1="218.00" y1="643.00" x2="228.00" y2="643.00" stroke="#bbb" stroke-width="0.6"/>
<line x1="218.00" y1="644.50" x2="228.00" y2="644.50" stroke="#bbb" stroke-width="0.6"/>
<line x1="218.00" y1="648.00" x2="228.00" y2="648.00" stroke="#bbb" stroke-width="0.6"/>
<line x1="210.00" y1="666.20" x2="213.00" y2="666.20" stroke="#bbb" stroke-width="0.7"/>
<line x1="196.00" y1="667.00" x2="205.00" y2="667.00" stroke="#444" stroke-width="0.8"/>
<line x1="88.00" y1="675.50" x2="101.00" y2="675.50" stroke="#bbb" stroke-width="0.8"/>
<line x1="96.00" y1="677.50" x2="107.00" y2="677.50" stroke="#bbb" stroke-width="0.8"/>
<line x1="96.00" y1="679.50" x2="109.00" y2="679.50" stroke="#bbb" stroke-width="0.8"/>
<line x1="88.00" y1="683.50" x2="98.00" y2="683.50" stroke="#bbb" stroke-width="0.8"/>
<line x1="88.00" y1="687.50" x2="106.00" y2="687.50" stroke="#bbb" stroke-width="0.8"/>
<line x1="112.00" y1="675.50" x2="115.00" y2="675.50" stroke="#bbb" stroke-width="0.8"/>
<line x1="112.00" y1="677.50" x2="115.00" y2="677.50" stroke="#bbb" stroke-width="0.8"/>
<line x1="112.00" y1="679.50" x2="115.00" y2="679.50" stroke="#bbb" stroke-width="0.8"/>
<line x1="104.00" y1="683.50" x2="115.00" y2="683.50" stroke="#bbb" stroke-width="0.8"/>
<line x1="113.00" y1="687.50" x2="115.00" y2="687.50" stroke="#bbb" stroke-width="0.8"/>
<line x1="124.00" y1="671.70" x2="148.00" y2="671.70" stroke="#aaa" stroke-width="1.1"/>
<line x1="185.00" y1="671.70" x2="203.00" y2="671.70" stroke="#aaa" stroke-width="1.1"/>
<rect x="123.20" y="675.20" width="52.60" height="31.30" fill="#fff" stroke="none" stroke-width="0.6"/>
<rect x="128.60" y="676.50" width="47.00" height="1.80" fill="#222" stroke="none" stroke-width="0.6"/>
<rect x="128.60" y="678.30" width="47.00" height="6.60" fill="#e6e6e6" stroke="none" stroke-width="0.6"/>
<rect x="128.60" y="685.80" width="47.00" height="20.20" fill="#e8e8e8" stroke="none" stroke-width="0.6"/>
<rect x="128.10" y="676.00" width="1.00" height="30.00" fill="#000" stroke="none" stroke-width="0.6"/>
<rect x="136.90" y="676.00" width="1.00" height="30.00" fill="#000" stroke="none" stroke-width="0.6"/>
<rect x="152.40" y="676.00" width="1.00" height="30.00" fill="#000" stroke="none" stroke-width="0.6"/>
<rect x="161.70" y="676.00" width="1.00" height="30.00" fill="#000" stroke="none" stroke-width="0.6"/>
<rect x="170.00" y="676.00" width="1.00" height="30.00" fill="#000" stroke="none" stroke-width="0.6"/>
<line x1="123.20" y1="685.40" x2="175.80" y2="685.40" stroke="#000" stroke-width="0.9"/>
<line x1="129.50" y1="687.00" x2="175.00" y2="687.00" stroke="#fff" stroke-width="0.6"/>
<line x1="129.50" y1="689.20" x2="175.00" y2="689.20" stroke="#fff" stroke-width="0.6"/>
<line x1="129.50" y1="691.40" x2="175.00" y2="691.40" stroke="#fff" stroke-width="0.6"/>
<line x1="129.50" y1="693.60" x2="175.00" y2="693.60" stroke="#fff" stroke-width="0.6"/>
<line x1="129.50" y1="695.80" x2="175.00" y2="695.80" stroke="#fff" stroke-width="0.6"/>
<line x1="129.50" y1="698.00" x2="175.00" y2="698.00" stroke="#fff" stroke-width="0.6"/>
<line x1="129.50" y1="700.20" x2="175.00" y2="700.20" stroke="#fff" stroke-width="0.6"/>
<line x1="129.50" y1="702.40" x2="175.00" y2="702.40" stroke="#fff" stroke-width="0.6"/>
<line x1="129.50" y1="704.60" x2="175.00" y2="704.60" stroke="#fff" stroke-width="0.6"/>
<rect x="123.65" y="675.65" width="51.70" height="30.60" fill="none" stroke="#000" stroke-width="0.9"/>
<line x1="124.00" y1="708.30" x2="132.00" y2="708.30" stroke="#aaa" stroke-width="0.7"/>
<line x1="222.00" y1="711.00" x2="230.00" y2="711.00" stroke="#aaa" stroke-width="0.7"/>
<rect x="184.10" y="675.20" width="41.70" height="26.30" fill="#111" stroke="none" stroke-width="0.6"/>
<rect x="185.20" y="676.30" width="3.90" height="2.00" fill="#fafafa" stroke="none" stroke-width="0.6"/>
<rect x="185.30" y="679.40" width="3.80" height="1.35" fill="#dcdcdc" stroke="none" stroke-width="0.6"/>
<rect x="185.30" y="681.40" width="3.80" height="1.35" fill="#dcdcdc" stroke="none" stroke-width="0.6"/>
<rect x="185.30" y="683.40" width="3.80" height="1.35" fill="#dcdcdc" stroke="none" stroke-width="0.6"/>
<rect x="185.30" y="685.40" width="3.80" height="1.35" fill="#dcdcdc" stroke="none" stroke-width="0.6"/>
<rect x="185.30" y="687.40" width="3.80" height="1.35" fill="#dcdcdc" stroke="none" stroke-width="0.6"/>
<rect x="185.30" y="689.40" width="3.80" height="1.35" fill="#dcdcdc" stroke="none" stroke-width="0.6"/>
<rect x="185.30" y="691.40" width="3.80" height="1.35" fill="#dcdcdc" stroke="none" stroke-width="0.6"/>
<rect x="185.30" y="693.40" width="3.80" height="1.35" fill="#dcdcdc" stroke="none" stroke-width="0.6"/>
<rect x="185.30" y="695.40" width="3.80" height="1.35" fill="#dcdcdc" stroke="none" stroke-width="0.6"/>
<rect x="185.30" y="697.40" width="3.80" height="1.35" fill="#dcdcdc" stroke="none" stroke-width="0.6"/>
<rect x="185.30" y="699.40" width="3.80" height="1.35" fill="#dcdcdc" stroke="none" stroke-width="0.6"/>
<rect x="190.35" y="676.30" width="3.90" height="2.00" fill="#fafafa" stroke="none" stroke-width="0.6"/>
<rect x="190.45" y="679.40" width="3.80" height="1.35" fill="#dcdcdc" stroke="none" stroke-width="0.6"/>
<rect x="190.45" y="681.40" width="3.80" height="1.35" fill="#dcdcdc" stroke="none" stroke-width="0.6"/>
<rect x="190.45" y="683.40" width="3.80" height="1.35" fill="#dcdcdc" stroke="none" stroke-width="0.6"/>
<rect x="190.45" y="685.40" width="3.80" height="1.35" fill="#dcdcdc" stroke="none" stroke-width="0.6"/>
<rect x="190.45" y="687.40" width="3.80" height="1.35" fill="#dcdcdc" stroke="none" stroke-width="0.6"/>
<rect x="190.45" y="689.40" width="3.80" height="1.35" fill="#dcdcdc" stroke="none" stroke-width="0.6"/>
<rect x="190.45" y="691.40" width="3.80" height="1.35" fill="#dcdcdc" stroke="none" stroke-width="0.6"/>
<rect x="190.45" y="693.40" width="3.80" height="1.35" fill="#dcdcdc" stroke="none" stroke-width="0.6"/>
<rect x="190.45" y="695.40" width="3.80" height="1.35" fill="#dcdcdc" stroke="none" stroke-width="0.6"/>
<rect x="190.45" y="697.40" width="3.80" height="1.35" fill="#dcdcdc" stroke="none" stroke-width="0.6"/>
<rect x="190.45" y="699.40" width="3.80" height="1.35" fill="#dcdcdc" stroke="none" stroke-width="0.6"/>
<rect x="195.50" y="676.30" width="3.90" height="2.00" fill="#fafafa" stroke="none" stroke-width="0.6"/>
<rect x="195.60" y="679.40" width="3.80" height="1.35" fill="#dcdcdc" stroke="none" stroke-width="0.6"/>
<rect x="195.60" y="681.40" width="3.80" height="1.35" fill="#dcdcdc" stroke="none" stroke-width="0.6"/>
<rect x="195.60" y="683.40" width="3.80" height="1.35" fill="#dcdcdc" stroke="none" stroke-width="0.6"/>
<rect x="195.60" y="685.40" width="3.80" height="1.35" fill="#dcdcdc" stroke="none" stroke-width="0.6"/>
<rect x="195.60" y="687.40" width="3.80" height="1.35" fill="#dcdcdc" stroke="none" stroke-width="0.6"/>
<rect x="195.60" y="689.40" width="3.80" height="1.35" fill="#dcdcdc" stroke="none" stroke-width="0.6"/>
<rect x="195.60" y="691.40" width="3.80" height="1.35" fill="#dcdcdc" stroke="none" stroke-width="0.6"/>
<rect x="195.60" y="693.40" width="3.80" height="1.35" fill="#dcdcdc" stroke="none" stroke-width="0.6"/>
<rect x="195.60" y="695.40" width="3.80" height="1.35" fill="#dcdcdc" stroke="none" stroke-width="0.6"/>
<rect x="195.60" y="697.40" width="3.80" height="1.35" fill="#dcdcdc" stroke="none" stroke-width="0.6"/>
<rect x="195.60" y="699.40" width="3.80" height="1.35" fill="#dcdcdc" stroke="none" stroke-width="0.6"/>
<rect x="200.65" y="676.30" width="3.90" height="2.00" fill="#fafafa" stroke="none" stroke-width="0.6"/>
<rect x="200.75" y="679.40" width="3.80" height="1.35" fill="#dcdcdc" stroke="none" stroke-width="0.6"/>
<rect x="200.75" y="681.40" width="3.80" height="1.35" fill="#dcdcdc" stroke="none" stroke-width="0.6"/>
<rect x="200.75" y="683.40" width="3.80" height="1.35" fill="#dcdcdc" stroke="none" stroke-width="0.6"/>
<rect x="200.75" y="685.40" width="3.80" height="1.35" fill="#dcdcdc" stroke="none" stroke-width="0.6"/>
<rect x="200.75" y="687.40" width="3.80" height="1.35" fill="#dcdcdc" stroke="none" stroke-width="0.6"/>
<rect x="200.75" y="689.40" width="3.80" height="1.35" fill="#dcdcdc" stroke="none" stroke-width="0.6"/>
<rect x="200.75" y="691.40" width="3.80" height="1.35" fill="#dcdcdc" stroke="none" stroke-width="0.6"/>
<rect x="200.75" y="693.40" width="3.80" height="1.35" fill="#dcdcdc" stroke="none" stroke-width="0.6"/>
<rect x="200.75" y="695.40" width="3.80" height="1.35" fill="#dcdcdc" stroke="none" stroke-width="0.6"/>
<rect x="200.75" y="697.40" width="3.80" height="1.35" fill="#dcdcdc" stroke="none" stroke-width="0.6"/>
<rect x="200.75" y="699.40" width="3.80" height="1.35" fill="#dcdcdc" stroke="none" stroke-width="0.6"/>
<rect x="205.80" y="676.30" width="3.90" height="2.00" fill="#fafafa" stroke="none" stroke-width="0.6"/>
<rect x="205.90" y="679.40" width="3.80" height="1.35" fill="#dcdcdc" stroke="none" stroke-width="0.6"/>
<rect x="205.90" y="681.40" width="3.80" height="1.35" fill="#dcdcdc" stroke="none" stroke-width="0.6"/>
<rect x="205.90" y="683.40" width="3.80" height="1.35" fill="#dcdcdc" stroke="none" stroke-width="0.6"/>
<rect x="205.90" y="685.40" width="3.80" height="1.35" fill="#dcdcdc" stroke="none" stroke-width="0.6"/>
<rect x="205.90" y="687.40" width="3.80" height="1.35" fill="#dcdcdc" stroke="none" stroke-width="0.6"/>
<rect x="205.90" y="689.40" width="3.80" height="1.35" fill="#dcdcdc" stroke="none" stroke-width="0.6"/>
<rect x="205.90" y="691.40" width="3.80" height="1.35" fill="#dcdcdc" stroke="none" stroke-width="0.6"/>
<rect x="205.90" y="693.40" width="3.80" height="1.35" fill="#dcdcdc" stroke="none" stroke-width="0.6"/>
<rect x="205.90" y="695.40" width="3.80" height="1.35" fill="#dcdcdc" stroke="none" stroke-width="0.6"/>
<rect x="205.90" y="697.40" width="3.80" height="1.35" fill="#dcdcdc" stroke="none" stroke-width="0.6"/>
<rect x="205.90" y="699.40" width="3.80" height="1.35" fill="#dcdcdc" stroke="none" stroke-width="0.6"/>
<rect x="210.95" y="676.30" width="3.90" height="2.00" fill="#fafafa" stroke="none" stroke-width="0.6"/>
<rect x="211.05" y="679.40" width="3.80" height="1.35" fill="#dcdcdc" stroke="none" stroke-width="0.6"/>
<rect x="211.05" y="681.40" width="3.80" height="1.35" fill="#dcdcdc" stroke="none" stroke-width="0.6"/>
<rect x="211.05" y="683.40" width="3.80" height="1.35" fill="#dcdcdc" stroke="none" stroke-width="0.6"/>
<rect x="211.05" y="685.40" width="3.80" height="1.35" fill="#dcdcdc" stroke="none" stroke-width="0.6"/>
<rect x="211.05" y="687.40" width="3.80" height="1.35" fill="#dcdcdc" stroke="none" stroke-width="0.6"/>
<rect x="211.05" y="689.40" width="3.80" height="1.35" fill="#dcdcdc" stroke="none" stroke-width="0.6"/>
<rect x="211.05" y="691.40" width="3.80" height="1.35" fill="#dcdcdc" stroke="none" stroke-width="0.6"/>
<rect x="211.05" y="693.40" width="3.80" height="1.35" fill="#dcdcdc" stroke="none" stroke-width="0.6"/>
<rect x="211.05" y="695.40" width="3.80" height="1.35" fill="#dcdcdc" stroke="none" stroke-width="0.6"/>
<rect x="211.05" y="697.40" width="3.80" height="1.35" fill="#dcdcdc" stroke="none" stroke-width="0.6"/>
<rect x="211.05" y="699.40" width="3.80" height="1.35" fill="#dcdcdc" stroke="none" stroke-width="0.6"/>
<rect x="216.10" y="676.30" width="3.90" height="2.00" fill="#fafafa" stroke="none" stroke-width="0.6"/>
<rect x="216.20" y="679.40" width="3.80" height="1.35" fill="#dcdcdc" stroke="none" stroke-width="0.6"/>
<rect x="216.20" y="681.40" width="3.80" height="1.35" fill="#dcdcdc" stroke="none" stroke-width="0.6"/>
<rect x="216.20" y="683.40" width="3.80" height="1.35" fill="#dcdcdc" stroke="none" stroke-width="0.6"/>
<rect x="216.20" y="685.40" width="3.80" height="1.35" fill="#dcdcdc" stroke="none" stroke-width="0.6"/>
<rect x="216.20" y="687.40" width="3.80" height="1.35" fill="#dcdcdc" stroke="none" stroke-width="0.6"/>
<rect x="216.20" y="689.40" width="3.80" height="1.35" fill="#dcdcdc" stroke="none" stroke-width="0.6"/>
<rect x="216.20" y="691.40" width="3.80" height="1.35" fill="#dcdcdc" stroke="none" stroke-width="0.6"/>
<rect x="216.20" y="693.40" width="3.80" height="1.35" fill="#dcdcdc" stroke="none" stroke-width="0.6"/>
<rect x="216.20" y="695.40" width="3.80" height="1.35" fill="#dcdcdc" stroke="none" stroke-width="0.6"/>
<rect x="216.20" y="697.40" width="3.80" height="1.35" fill="#dcdcdc" stroke="none" stroke-width="0.6"/>
<rect x="216.20" y="699.40" width="3.80" height="1.35" fill="#dcdcdc" stroke="none" stroke-width="0.6"/>
<rect x="221.25" y="676.30" width="3.90" height="2.00" fill="#fafafa" stroke="none" stroke-width="0.6"/>
<rect x="221.35" y="679.40" width="3.80" height="1.35" fill="#dcdcdc" stroke="none" stroke-width="0.6"/>
<rect x="221.35" y="681.40" width="3.80" height="1.35" fill="#dcdcdc" stroke="none" stroke-width="0.6"/>
<rect x="221.35" y="683.40" width="3.80" height="1.35" fill="#dcdcdc" stroke="none" stroke-width="0.6"/>
<rect x="221.35" y="685.40" width="3.80" height="1.35" fill="#dcdcdc" stroke="none" stroke-width="0.6"/>
<rect x="221.35" y="687.40" width="3.80" height="1.35" fill="#dcdcdc" stroke="none" stroke-width="0.6"/>
<rect x="221.35" y="689.40" width="3.80" height="1.35" fill="#dcdcdc" stroke="none" stroke-width="0.6"/>
<rect x="221.35" y="691.40" width="3.80" height="1.35" fill="#dcdcdc" stroke="none" stroke-width="0.6"/>
<rect x="221.35" y="693.40" width="3.80" height="1.35" fill="#dcdcdc" stroke="none" stroke-width="0.6"/>
<rect x="221.35" y="695.40" width="3.80" height="1.35" fill="#dcdcdc" stroke="none" stroke-width="0.6"/>
<rect x="221.35" y="697.40" width="3.80" height="1.35" fill="#dcdcdc" stroke="none" stroke-width="0.6"/>
<rect x="221.35" y="699.40" width="3.80" height="1.35" fill="#dcdcdc" stroke="none" stroke-width="0.6"/>
<line x1="221.00" y1="702.50" x2="225.00" y2="702.50" stroke="#aaa" stroke-width="0.6"/>
<rect x="81.50" y="828.00" width="156.30" height="1.10" fill="#555" stroke="none" stroke-width="0.6"/>
<text x="81.9" y="832.4" font-size="3.4" fill="#333" textLength="39.7" lengthAdjust="spacingAndGlyphs">Calculux Photometrics 4.5</text>
<text x="145.6" y="832.4" font-size="3.4" fill="#333" textLength="27.4" lengthAdjust="spacingAndGlyphs">Philips Lighting B.V.</text>
<text x="224.4" y="832.4" font-size="3.4" fill="#333" textLength="13.1" lengthAdjust="spacingAndGlyphs">Page 1/1</text>
</svg>
</body></html>
